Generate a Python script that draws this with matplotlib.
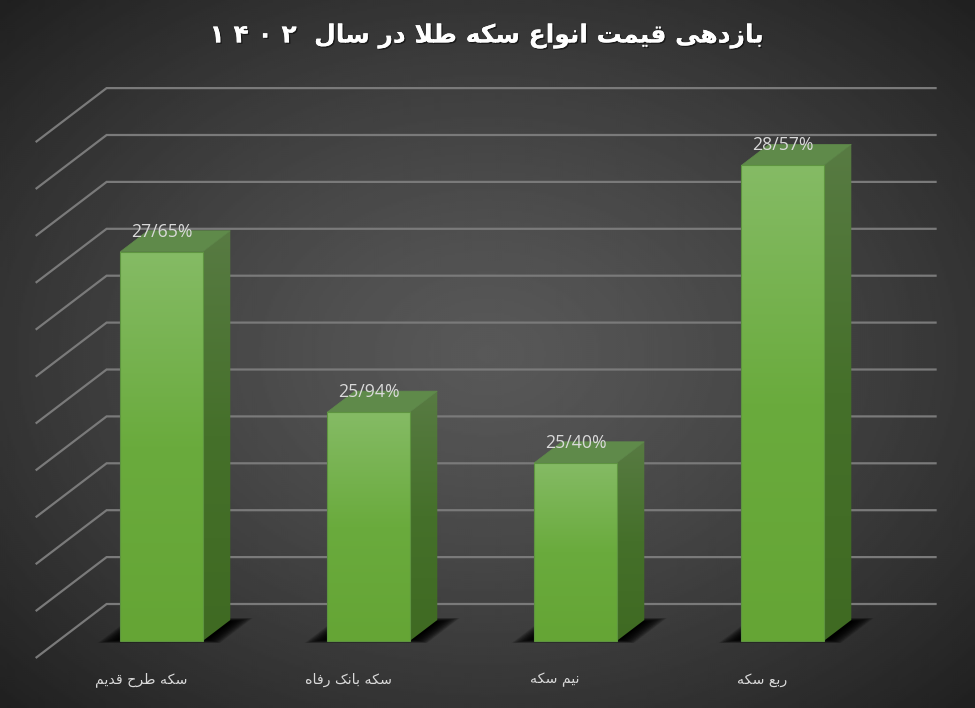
import numpy as np
import matplotlib
matplotlib.use('agg')
import matplotlib.pyplot as plt
from matplotlib.colors import LinearSegmentedColormap
from matplotlib.patches import Polygon
import matplotlib.patheffects as pe

categories = ["سکه طرح قدیم", "سکه بانک رفاه", "نیم سکه", "ربع سکه"]
values = [27.65, 25.94, 25.40, 28.57]
grid_ticks = [23.5, 24.0, 24.5, 25.0, 25.5, 26.0, 26.5, 27.0, 27.5, 28.0, 28.5, 29.0]
title_words = "بازدهی قیمت انواع سکه طلا در سال"
title_year = "۱ ۴ ۰ ۲"

W, H = 975, 708
# pixel calibration of the value/category scales on the plane of the bar fronts
PX_X0, PX_PER_CAT = 161.5, 207.0
PX_Y0, PX_PER_UNIT = 641.0, 93.8
# depth of the wall behind that plane, in pixels
WALL_DX, WALL_DY = 48.6, 37.0
BAR_DEPTH = 21.0 / 37.0
FLOOR_FRONT = -17.0 / 37.0
BAR_HALF = 41.2 / PX_PER_CAT

# isolated, final, initial, medial
FORMS = {
    'ا': ('\ufe8d', '\ufe8e'), 'د': ('\ufea9', '\ufeaa'), 'ر': ('\ufead', '\ufeae'),
    'ز': ('\ufeaf', '\ufeb0'), 'و': ('\ufeed', '\ufeee'),
    'ب': ('\ufe8f', '\ufe90', '\ufe91', '\ufe92'), 'ت': ('\ufe95', '\ufe96', '\ufe97', '\ufe98'),
    'ح': ('\ufea1', '\ufea2', '\ufea3', '\ufea4'), 'س': ('\ufeb1', '\ufeb2', '\ufeb3', '\ufeb4'),
    'ط': ('\ufec1', '\ufec2', '\ufec3', '\ufec4'), 'ع': ('\ufec9', '\ufeca', '\ufecb', '\ufecc'),
    'ف': ('\ufed1', '\ufed2', '\ufed3', '\ufed4'), 'ق': ('\ufed5', '\ufed6', '\ufed7', '\ufed8'),
    'ک': ('\ufb8e', '\ufb8f', '\ufb90', '\ufb91'), 'ل': ('\ufedd', '\ufede', '\ufedf', '\ufee0'),
    'م': ('\ufee1', '\ufee2', '\ufee3', '\ufee4'), 'ن': ('\ufee5', '\ufee6', '\ufee7', '\ufee8'),
    'ه': ('\ufee9', '\ufeea', '\ufeeb', '\ufeec'), 'ی': ('\ufbfc', '\ufbfd', '\ufbfe', '\ufbff'),
}


def shape(text):
    """matplotlib has no bidi or joining, so pick the forms and reverse by hand"""
    out = []
    for word in text.split(' '):
        word = word.replace('لا', '\ufefb')
        glyphs = []
        for i, c in enumerate(word):
            if c == '\ufefb':
                prev = word[i - 1] if i > 0 else None
                joined = prev in FORMS and len(FORMS[prev]) == 4
                glyphs.append('\ufefc' if joined else '\ufefb')
                continue
            f = FORMS[c]
            prev = word[i - 1] if i > 0 else None
            nxt = word[i + 1] if i + 1 < len(word) else None
            after = prev in FORMS and len(FORMS[prev]) == 4
            before = len(f) == 4 and nxt is not None
            if after and before:
                glyphs.append(f[3])
            elif after:
                glyphs.append(f[1])
            elif before:
                glyphs.append(f[2])
            else:
                glyphs.append(f[0])
        out.append(''.join(reversed(glyphs)))
    return ' '.join(reversed(out))


def project(x, v, d):
    """category x, value v, depth d (0 at bar fronts, 1 at the wall) to data coords"""
    return x + d * WALL_DX / PX_PER_CAT, v + d * WALL_DY / PX_PER_UNIT


def gradient_face(ax, pts, cmap, zorder):
    """vertical gradient clipped to a polygon"""
    xs = [p[0] for p in pts]
    ys = [p[1] for p in pts]
    g = np.linspace(0, 1, 256).reshape(-1, 1)
    im = ax.imshow(g, cmap=cmap, extent=[min(xs), max(xs), min(ys), max(ys)], origin='upper',
                   aspect='auto', zorder=zorder, vmin=0, vmax=1, interpolation='bilinear')
    im.set_clip_path(Polygon(pts, closed=True, transform=ax.transData))


front_cmap = LinearSegmentedColormap.from_list('front', ['#85BB65', '#6AAB3D', '#65A535'])
side_cmap = LinearSegmentedColormap.from_list('side', ['#587B43', '#45702A', '#3F6A22'])

fig = plt.figure(figsize=(W / 100, H / 100), dpi=100)
ax = fig.add_axes([0, 0, 1, 1])
xlim = (-PX_X0 / PX_PER_CAT, (W - PX_X0) / PX_PER_CAT)
ylim = (grid_ticks[0] - (H - PX_Y0) / PX_PER_UNIT, grid_ticks[0] + PX_Y0 / PX_PER_UNIT)

# radial background
yy, xx = np.mgrid[0:1:354j, 0:1:488j]
r = np.sqrt(((xx - 0.5) * 2) ** 2 + ((yy - 0.5) * 2) ** 2) / np.sqrt(2)
bg = 0.345 - (0.345 - 0.125) * np.clip(r, 0, 1) ** 1.3
ax.imshow(bg, cmap='gray', vmin=0, vmax=1, extent=[xlim[0], xlim[1], ylim[0], ylim[1]],
          aspect='auto', zorder=0, interpolation='bilinear')

# wall and side grid lines
left, right = -0.5, 3.51
for tick in grid_ticks:
    x0, y0 = project(left, tick, FLOOR_FRONT)
    x1, y1 = project(left, tick, 1)
    x2, y2 = project(right, tick, 1)
    ax.plot([x0, x1, x2], [y0, y1, y2], color='#7a7a7a', lw=1.6, zorder=1,
            solid_joinstyle='miter', solid_capstyle='butt')

for i, (name, val) in enumerate(zip(categories, values)):
    xl, xr = i - BAR_HALF, i + BAR_HALF
    base = grid_ticks[0]

    # soft floor shadow, stacked so the edges fade out
    layers = 30
    for k in range(layers):
        t = k / (layers - 1)
        grow = (-2 + 22 * (1 - t)) / PX_PER_CAT
        pad = (5 * (1 - t) - 3) / WALL_DY
        shadow = [project(xl - grow, base, -pad), project(xr + grow, base, -pad),
                  project(xr + grow, base, BAR_DEPTH + pad), project(xl - grow, base, BAR_DEPTH + pad)]
        ax.add_patch(Polygon(shadow, closed=True, fc='black', ec='none', alpha=0.09, zorder=2))

    # front face
    front = [(xl, base), (xr, base), (xr, val), (xl, val)]
    gradient_face(ax, front, front_cmap, 4)
    ax.add_patch(Polygon(front, closed=True, fc='none', ec='#5E9440', lw=0.8, zorder=5))

    # side face
    side = [(xr, base), project(xr, base, BAR_DEPTH), project(xr, val, BAR_DEPTH), (xr, val)]
    gradient_face(ax, side, side_cmap, 3)

    # top face
    top = [(xl, val), (xr, val), project(xr, val, BAR_DEPTH), project(xl, val, BAR_DEPTH)]
    ax.add_patch(Polygon(top, closed=True, fc='#5F8A4A', ec='#5F8A4A', lw=0.5, zorder=3))

    # value label, decimal separator is a slash in the source
    ax.text(i, val + 20 / PX_PER_UNIT, "{:.2f}%".format(val).replace('.', '/'), color='#D9D9D9',
            fontsize=12.7, family='Open Sans', ha='center', va='center', zorder=6)

    # category label sits on the front floor edge
    lx, _ = project(i, base, FLOOR_FRONT)
    ax.text(lx + 2 / PX_PER_CAT, base - 39 / PX_PER_UNIT, shape(name), color='#D9D9D9', fontsize=10.2,
            family='DejaVu Sans', ha='center', va='center', zorder=6)

title = ax.text(0.5, 1 - 36 / H, title_year + '  ' + shape(title_words), transform=ax.transAxes,
                color='white', fontsize=18, fontweight='bold', family='DejaVu Sans',
                ha='center', va='center', zorder=7)
title.set_path_effects([pe.withSimplePatchShadow(offset=(1, -1), shadow_rgbFace='black', alpha=0.5),
                        pe.Normal()])

ax.set_xlim(xlim)
ax.set_ylim(ylim)
ax.axis('off')
fig.savefig('out.png', dpi=100)
